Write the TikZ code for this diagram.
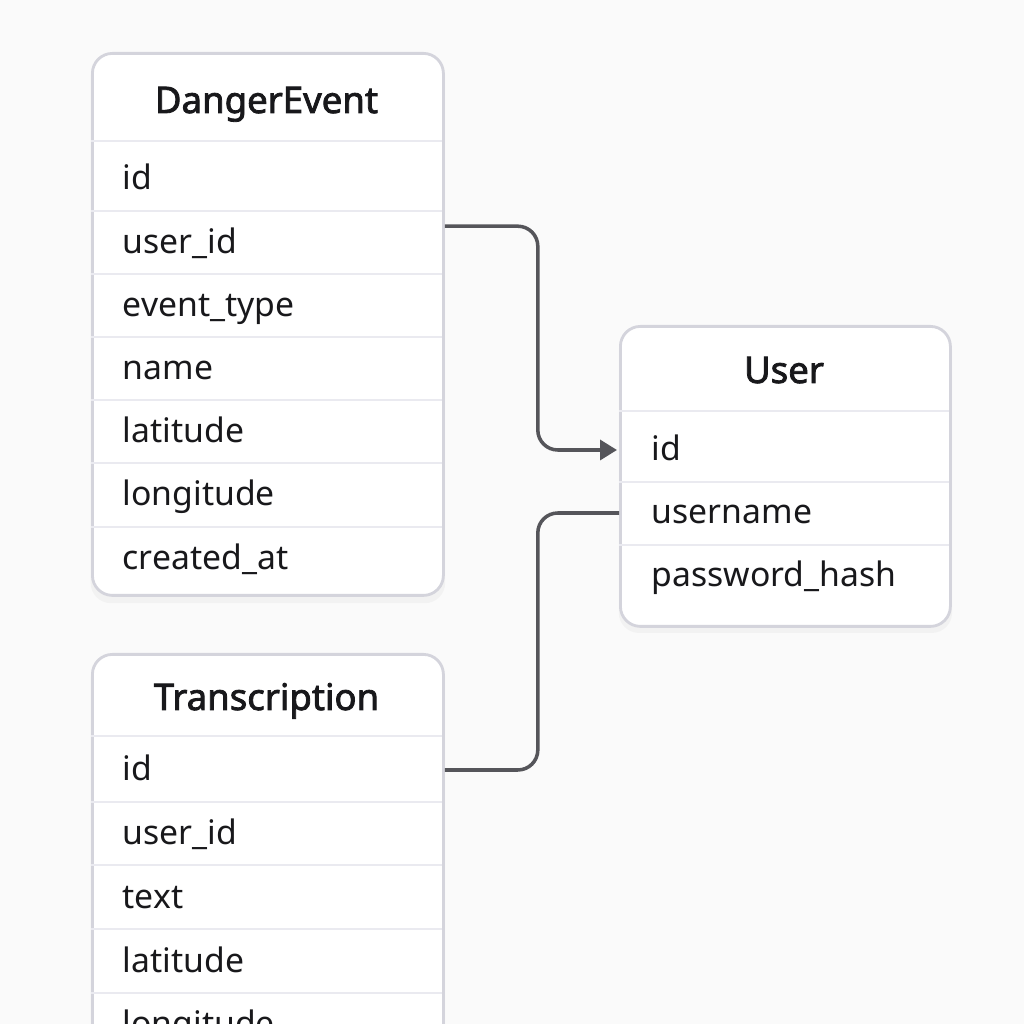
\documentclass[tikz,border=0pt]{standalone}
\usepackage{fontspec}
\setmainfont{Noto Sans}[AutoFakeBold=2.2]
\usepackage{tikz}
\usetikzlibrary{arrows.meta, positioning, calc, shadows}
\usepackage{xcolor}
\definecolor{pagebg}{RGB}{250,250,250}
\definecolor{tblborder}{RGB}{212,212,220}
\definecolor{rowline}{RGB}{234,234,240}
\definecolor{ink}{RGB}{24,24,27}
\definecolor{relgray}{RGB}{85,85,90}
\tikzset{
  tbl/.style={rectangle, draw=tblborder, fill=white, line width=0.8pt,
    rounded corners=0.2cm, inner sep=0pt, anchor=north west,
    drop shadow={opacity=0.06, shadow xshift=0pt, shadow yshift=-0.05cm,
      shadow scale=1.01}},
  ttl/.style={font=\fontsize{10.4}{12}\selectfont\bfseries, text=ink,
    inner sep=0pt, text height=0.27cm, text depth=0.03cm},
  fld/.style={anchor=west, font=\fontsize{9.6}{11}\selectfont, text=ink,
    inner sep=0pt, text height=0.25cm, text depth=0.03cm},
  rowsep/.style={draw=rowline, line width=0.6pt},
  rel/.style={draw=relgray, line width=1pt, rounded corners=0.2cm},
  relA/.style={rel, -{Triangle[length=0.17cm, width=0.2cm]}},
}

\begin{document}
\begin{tikzpicture}
  % Page and margins
  \fill[pagebg] (0,0) rectangle (10.24,10.24);
  \useasboundingbox (0,0) rectangle (10.24,10.24);
  \clip (0,0) rectangle (10.24,10.24);

  % DangerEvent table
  \node[tbl, minimum width=3.51cm, minimum height=5.42cm] (de) at (0.91,9.72) {};
  \node[ttl] (de-t) at (2.665,9.23) {DangerEvent};
  \draw[rowsep] (0.91,8.83) -- (4.42,8.83);
  \foreach \fname [count=\i] in {id,user\_id,event\_type,name,latitude,longitude,created\_at}{
    \node[fld] (de-\i) at (1.22,{8.45-0.632*(\i-1)}) {\fname};
    \ifnum\i>1
      \draw[rowsep] (0.91,{8.45-0.632*(\i-1)+0.316}) -- (4.42,{8.45-0.632*(\i-1)+0.316});
    \fi
  }

  % Transcription table (runs off the bottom)
  \node[tbl, minimum width=3.51cm, minimum height=4.2cm] (tr) at (0.91,3.71) {};
  \node[ttl] (tr-t) at (2.665,3.26) {Transcription};
  \draw[rowsep] (0.91,2.88) -- (4.42,2.88);
  \foreach \fname [count=\i] in {id,user\_id,text,latitude,longitude}{
    \node[fld] (tr-\i) at (1.22,{2.54-0.637*(\i-1)}) {\fname};
    \ifnum\i>1
      \draw[rowsep] (0.91,{2.54-0.637*(\i-1)+0.32}) -- (4.42,{2.54-0.637*(\i-1)+0.32});
    \fi
  }

  % User table
  \node[tbl, minimum width=3.30cm, minimum height=3.00cm] (us) at (6.19,6.99) {};
  \node[ttl] (us-t) at (7.84,6.53) {User};
  \draw[rowsep] (6.19,6.13) -- (9.49,6.13);
  \foreach \fname [count=\i] in {id,username,password\_hash}{
    \node[fld] (us-\i) at (6.51,{5.74-0.63*(\i-1)}) {\fname};
    \ifnum\i>1
      \draw[rowsep] (6.19,{5.74-0.63*(\i-1)+0.31}) -- (9.49,{5.74-0.63*(\i-1)+0.31});
    \fi
  }

  % Relations
  \draw[relA] ([yshift=0.16cm]de.east |- de-2) -- ++(0.93,0)
       |- ([xshift=-0.02cm]us.west |- us-1);
  \draw[rel] (tr.east |- tr-1) -- ++(0.93,0) |- (us.west |- us-2);
\end{tikzpicture}
\end{document}
